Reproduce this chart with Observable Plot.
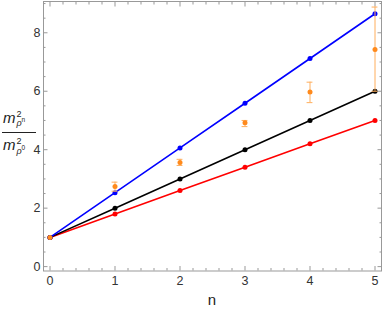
<!DOCTYPE html>
<html>
<head>
<meta charset="utf-8">
<script src="https://cdn.jsdelivr.net/npm/d3@7"></script>
<script src="https://cdn.jsdelivr.net/npm/@observablehq/plot@0.6"></script>
<style>
  html, body { margin: 0; padding: 0; background: #fff; }
  #chart { position: relative; width: 382px; height: 310px; }
  #chart svg { display: block; }
</style>
</head>
<body>
<div id="chart"></div>
<script>
// ---- data ----
const nValues = [0, 1, 2, 3, 4, 5];
const blueValues = [1, 2.53, 4.06, 5.59, 7.12, 8.65];
const blackValues = [1, 2, 3, 4, 5, 6];
const redValues = [1, 1.8, 2.6, 3.4, 4.2, 5.0];
const orangeValues = [1, 2.74, 3.56, 4.92, 5.97, 7.43];
const orangeLow = [null, 2.58, 3.46, 4.79, 5.61, 6.0];
const orangeHigh = [null, 2.89, 3.67, 5.0, 6.31, 8.88];

const xMajorTicks = [0, 1, 2, 3, 4, 5];
const xMinorTicks = [0.2, 0.4, 0.6, 0.8, 1.2, 1.4, 1.6, 1.8, 2.2, 2.4, 2.6, 2.8, 3.2, 3.4, 3.6, 3.8, 4.2, 4.4, 4.6, 4.8];
const yMajorTicks = [0, 2, 4, 6, 8];
const yMinorTicks = [0.5, 1, 1.5, 2.5, 3, 3.5, 4.5, 5, 5.5, 6.5, 7, 7.5, 8.5, 9];

const seriesOf = (vals) => nValues.map((n, i) => ({n, v: vals[i]}));
const blue = seriesOf(blueValues);
const black = seriesOf(blackValues);
const red = seriesOf(redValues);
const orange = seriesOf(orangeValues);
const errors = nValues.map((n, i) => ({n, lo: orangeLow[i], hi: orangeHigh[i]})).filter(d => d.lo != null);

const frameColor = "#999";
const labelColor = "#333";
const capHalf = 0.045;

const inward = (ticks, anchor, size) => (anchor === "bottom" || anchor === "top")
  ? Plot.axisX(ticks, {anchor, tickSize: -size, tickFormat: () => "", stroke: frameColor, strokeWidth: 1})
  : Plot.axisY(ticks, {anchor, tickSize: -size, tickFormat: () => "", stroke: frameColor, strokeWidth: 1});

const chart = Plot.plot({
  width: 382,
  height: 310,
  marginLeft: 43,
  marginRight: 1,
  marginTop: 1,
  marginBottom: 39.5,
  style: {fontFamily: "'Liberation Sans', Arial, sans-serif", fontSize: "12.5px", background: "white"},
  x: {domain: [-0.1, 5.1], label: null},
  y: {domain: [-0.15, 9.07], label: null},
  marks: [
    Plot.frame({stroke: frameColor, strokeWidth: 1}),
    inward(xMinorTicks, "bottom", 2.5),
    inward(xMajorTicks, "bottom", 4.5),
    inward(xMinorTicks, "top", 2.5),
    inward(xMajorTicks, "top", 4.5),
    inward(yMinorTicks, "left", 2.5),
    inward(yMajorTicks, "left", 4.5),
    inward(yMinorTicks, "right", 2.5),
    inward(yMajorTicks, "right", 4.5),
    Plot.axisX(xMajorTicks, {anchor: "bottom", tickSize: 0, tickPadding: 5, color: labelColor, label: null}),
    Plot.axisY(yMajorTicks, {anchor: "left", tickSize: 0, tickPadding: 3, color: labelColor, label: null}),

    Plot.line(red, {x: "n", y: "v", stroke: "#ff0000", strokeWidth: 1.6}),
    Plot.dot(red, {x: "n", y: "v", fill: "#ff0000", r: 2.5}),
    Plot.line(black, {x: "n", y: "v", stroke: "#000", strokeWidth: 1.6}),
    Plot.dot(black, {x: "n", y: "v", fill: "#000", r: 2.5}),
    Plot.line(blue, {x: "n", y: "v", stroke: "#0000ff", strokeWidth: 1.6}),
    Plot.dot(blue, {x: "n", y: "v", fill: "#0000ff", r: 2.5}),

    Plot.ruleX(errors, {x: "n", y1: "lo", y2: "hi", stroke: "#ffae5c", strokeWidth: 1}),
    Plot.ruleY(errors, {y: "lo", x1: d => d.n - capHalf, x2: d => d.n + capHalf, stroke: "#ffae5c", strokeWidth: 1}),
    Plot.ruleY(errors, {y: "hi", x1: d => d.n - capHalf, x2: d => d.n + capHalf, stroke: "#ffae5c", strokeWidth: 1}),
    Plot.dot(orange, {x: "n", y: "v", fill: "#ff8a1c", r: 2.5})
  ]
});

document.getElementById("chart").appendChild(chart);

// axis titles
const svg = d3.select(chart);
const g = svg.append("g")
  .attr("font-family", "'Liberation Sans', Arial, sans-serif")
  .attr("text-anchor", "start")
  .attr("fill", "#222");

g.append("text").attr("x", 212).attr("y", 305).attr("text-anchor", "middle")
  .attr("font-size", 15).text("n");

function term(baseline, supIndex) {
  g.append("text").attr("x", 3).attr("y", baseline).attr("font-size", 15)
    .attr("font-style", "italic").text("m");
  g.append("text").attr("x", 16.5).attr("y", baseline - 6).attr("font-size", 9).text("2");
  g.append("text").attr("x", 16.5).attr("y", baseline + 3.5).attr("font-size", 9)
    .attr("font-style", "italic").text("ρ");
  g.append("text").attr("x", 21.5).attr("y", baseline - 0.5).attr("font-size", 6.5).text(supIndex);
}
term(122.7, "n");
g.append("line").attr("x1", 2).attr("x2", 36).attr("y1", 132.5).attr("y2", 132.5)
  .attr("stroke", "#222").attr("stroke-width", 1);
term(150, "0");
</script>
</body>
</html>
